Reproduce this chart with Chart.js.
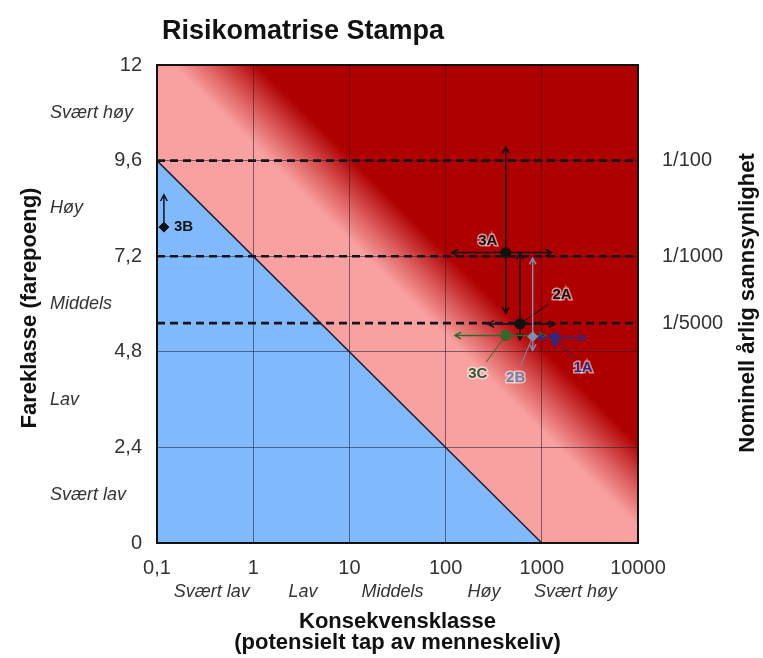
<!DOCTYPE html>
<html>
<head>
<meta charset="utf-8">
<script src="https://cdn.jsdelivr.net/npm/chart.js@4.4.1/dist/chart.umd.min.js"></script>
<style>
  html, body { margin: 0; padding: 0; background: #fff; }
  #c { display: block; }
</style>
</head>
<body>
<canvas id="c" width="763" height="658"></canvas>
<script>
// ---------- DATA ----------
const xTickValues = [0.1, 1, 10, 100, 1000, 10000];
const xTickLabels = ['0,1', '1', '10', '100', '1000', '10000'];
const yTickValues = [0, 2.4, 4.8, 7.2, 9.6, 12];
const yTickLabels = ['0', '2,4', '4,8', '7,2', '9,6', '12'];

const consequenceClasses = ['Svært lav', 'Lav', 'Middels', 'Høy', 'Svært høy'];
const consequenceClassX = [0.37, 3.3, 28, 250, 2240];
const hazardClasses = ['Svært lav', 'Lav', 'Middels', 'Høy', 'Svært høy'];
const hazardClassY = [1.2, 3.6, 6.0, 8.4, 10.8];

const probabilityLabels = ['1/5000', '1/1000', '1/100'];
const probabilityY = [5.52, 7.2, 9.6];

// acceptance boundary (blue region below)
const boundaryX = [0.1, 1000];
const boundaryY = [9.6, 0];
const isoSlope = 2.4;            // fareklasse per decade of consequence
const gradientFrom = 10.0;       // iso-risk level where pink begins to darken
const gradientTo = 12.1;         // iso-risk level that is fully dark red

// assessed scenarios
const pointLabels = ['3B', '3A', '2A', '3C', '2B', '1A'];
const pointX = [0.118, 422, 593, 422, 804, 1371];
const pointY = [7.93, 7.29, 5.5, 5.21, 5.18, 5.15];
const xErrLow = [null, 116, 275, 125, null, 912];
const xErrHigh = [null, 1268, 1370, 1080, null, 2820];
const yErrLow = [7.93, 5.77, 5.1, null, 4.84, 4.93];
const yErrHigh = [8.74, 9.94, 7.28, null, 7.15, 5.3];

// ---------- STYLE ----------
const FONT = "'Liberation Sans', Arial, Helvetica, sans-serif";
const BLUE = '#80BAFD';
const PINK = '#F9A1A1';
const DARKRED = '#AF0000';
const pointColors = ['#111111', '#111111', '#111111', '#2E6A2E', '#7A90B0', '#2A2A88'];
const labelColors = ['#111111', '#111111', '#111111', '#2F5A2F', '#6F82A6', '#2A2A86'];
const pointStyles = ['rectRot', 'circle', 'circle', 'circle', 'rectRot', 'triangle'];
const pointRadii = [5, 5, 5, 5, 5, 6];
const pointRotations = [0, 0, 0, 0, 0, 180];
const labelOffsets = [[10, 0], [-18, -12], [42, -29], [-28, 38], [-17, 41], [28, 30]];
const labelAlign = ['left', 'center', 'center', 'center', 'center', 'center'];
const leaderLines = [false, false, true, true, true, true];

function arrowHead(ctx, x, y, ang, size) {
  ctx.beginPath();
  ctx.moveTo(x - size * Math.cos(ang - 0.5), y - size * Math.sin(ang - 0.5));
  ctx.lineTo(x, y);
  ctx.lineTo(x - size * Math.cos(ang + 0.5), y - size * Math.sin(ang + 0.5));
  ctx.stroke();
}

const backgroundPlugin = {
  id: 'riskBackground',
  beforeDraw(chart) {
    const { ctx, chartArea: a, scales: { x, y } } = chart;
    ctx.save();
    ctx.fillStyle = '#fff';
    ctx.fillRect(0, 0, chart.width, chart.height);
    ctx.beginPath();
    ctx.rect(a.left, a.top, a.right - a.left, a.bottom - a.top);
    ctx.clip();
    // diagonal gradient along iso-risk lines
    const p0x = x.getPixelForValue(1), p0y = y.getPixelForValue(gradientFrom);
    const qy = y.getPixelForValue(gradientTo);
    const dx = x.getPixelForValue(10) - p0x;
    const dy = y.getPixelForValue(gradientFrom - isoSlope) - p0y;
    const nx = dy, ny = -dx;
    const t = ((qy - p0y) * ny) / (nx * nx + ny * ny);
    const g = ctx.createLinearGradient(p0x, p0y, p0x + t * nx, p0y + t * ny);
    g.addColorStop(0, PINK);
    g.addColorStop(0.45, '#DC5C5C');
    g.addColorStop(1, DARKRED);
    ctx.fillStyle = g;
    ctx.fillRect(a.left, a.top, a.right - a.left, a.bottom - a.top);
    // blue acceptable region
    ctx.beginPath();
    ctx.moveTo(x.getPixelForValue(boundaryX[0]), y.getPixelForValue(boundaryY[0]));
    ctx.lineTo(x.getPixelForValue(boundaryX[1]), y.getPixelForValue(boundaryY[1]));
    ctx.lineTo(x.getPixelForValue(boundaryX[0]), y.getPixelForValue(boundaryY[1]));
    ctx.closePath();
    ctx.fillStyle = BLUE;
    ctx.fill();
    ctx.restore();
  }
};

const errorBarPlugin = {
  id: 'errorBars',
  beforeDatasetsDraw(chart) {
    const { ctx, scales: { x, y } } = chart;
    ctx.save();
    ctx.lineWidth = 1.5;
    for (let i = 0; i < pointLabels.length; i++) {
      ctx.strokeStyle = pointColors[i];
      const px = x.getPixelForValue(pointX[i]);
      const py = y.getPixelForValue(pointY[i]);
      if (xErrLow[i] != null) {
        const x1 = x.getPixelForValue(xErrLow[i]);
        const x2 = x.getPixelForValue(xErrHigh[i]);
        ctx.beginPath(); ctx.moveTo(x1, py); ctx.lineTo(x2, py); ctx.stroke();
        arrowHead(ctx, x1, py, Math.PI, 7);
        arrowHead(ctx, x2, py, 0, 7);
      }
      if (yErrLow[i] != null) {
        const y1 = y.getPixelForValue(yErrLow[i]);
        const y2 = y.getPixelForValue(yErrHigh[i]);
        ctx.beginPath(); ctx.moveTo(px, y1); ctx.lineTo(px, y2); ctx.stroke();
        if (Math.abs(y1 - py) > 2) arrowHead(ctx, px, y1, Math.PI / 2, 7);
        if (Math.abs(y2 - py) > 2) arrowHead(ctx, px, y2, -Math.PI / 2, 7);
      }
      if (leaderLines[i]) {
        const lx = px + labelOffsets[i][0], ly = py + labelOffsets[i][1];
        const ex = lx - (labelOffsets[i][0]) * 0.3, ey = ly - labelOffsets[i][1] * 0.3;
        ctx.lineWidth = 1;
        ctx.beginPath(); ctx.moveTo(px, py); ctx.lineTo(ex, ey); ctx.stroke();
        ctx.lineWidth = 1.5;
      }
    }
    ctx.restore();
  },
  afterDatasetsDraw(chart) {
    const { ctx, scales: { x, y } } = chart;
    ctx.save();
    ctx.font = 'bold 15px ' + FONT;
    ctx.textBaseline = 'middle';
    for (let i = 0; i < pointLabels.length; i++) {
      const px = x.getPixelForValue(pointX[i]);
      const py = y.getPixelForValue(pointY[i]);
      const lx = px + labelOffsets[i][0], ly = py + labelOffsets[i][1];
      ctx.textAlign = labelAlign[i];
      if (i > 0) {
        ctx.strokeStyle = 'rgba(255,255,255,0.55)';
        ctx.lineWidth = 3;
        ctx.strokeText(pointLabels[i], lx, ly);
      }
      ctx.fillStyle = labelColors[i];
      ctx.fillText(pointLabels[i], lx, ly);
    }
    ctx.restore();
  }
};

const textPlugin = {
  id: 'texts',
  afterDraw(chart) {
    const { ctx, chartArea: a, scales: { x, y } } = chart;
    ctx.save();
    // plot border
    ctx.strokeStyle = '#111';
    ctx.lineWidth = 2;
    ctx.strokeRect(a.left, a.top, a.right - a.left, a.bottom - a.top);
    ctx.fillStyle = '#111';
    // title
    ctx.font = 'bold 27px ' + FONT;
    ctx.textAlign = 'left';
    ctx.textBaseline = 'alphabetic';
    ctx.fillText('Risikomatrise Stampa', 162, 39);
    // x title
    ctx.font = 'bold 22px ' + FONT;
    ctx.textAlign = 'center';
    ctx.textBaseline = 'middle';
    const cx = (a.left + a.right) / 2;
    ctx.fillText('Konsekvensklasse', cx, 622);
    ctx.fillText('(potensielt tap av menneskeliv)', cx, 643);
    // left y title
    ctx.save();
    ctx.translate(30, 308);
    ctx.rotate(-Math.PI / 2);
    ctx.fillText('Fareklasse (farepoeng)', 0, 0);
    ctx.restore();
    // right y title
    ctx.save();
    ctx.translate(748, 303);
    ctx.rotate(-Math.PI / 2);
    ctx.fillText('Nominell årlig sannsynlighet', 0, 0);
    ctx.restore();
    // class labels
    ctx.fillStyle = '#333';
    ctx.font = 'italic 18px ' + FONT;
    ctx.textAlign = 'center';
    for (let i = 0; i < consequenceClasses.length; i++) {
      ctx.fillText(consequenceClasses[i], x.getPixelForValue(consequenceClassX[i]), 592);
    }
    ctx.textAlign = 'left';
    for (let i = 0; i < hazardClasses.length; i++) {
      ctx.fillText(hazardClasses[i], 50, y.getPixelForValue(hazardClassY[i]));
    }
    ctx.restore();
  }
};

const hLine = (v) => [{ x: 0.1, y: v }, { x: 10000, y: v }];

new Chart(document.getElementById('c'), {
  type: 'scatter',
  data: {
    datasets: [
      {
        data: pointX.map((v, i) => ({ x: v, y: pointY[i] })),
        pointStyle: pointStyles,
        pointRadius: pointRadii,
        pointRotation: pointRotations,
        backgroundColor: pointColors,
        borderColor: pointColors,
        borderWidth: 1,
        showLine: false
      },
      ...probabilityY.map(v => ({
        type: 'line',
        data: hLine(v),
        borderColor: '#151520',
        borderWidth: 2.6,
        borderDash: [8, 5],
        pointRadius: 0,
        fill: false
      })),
      {
        type: 'line',
        data: boundaryX.map((v, i) => ({ x: v, y: boundaryY[i] })),
        borderColor: '#1E2030',
        borderWidth: 1.5,
        pointRadius: 0,
        fill: false
      }
    ]
  },
  options: {
    responsive: false,
    animation: false,
    layout: { padding: { top: 65, left: 0, right: 0, bottom: 0 } },
    plugins: { legend: { display: false }, tooltip: { enabled: false }, title: { display: false } },
    scales: {
      x: {
        type: 'logarithmic',
        position: 'bottom',
        min: 0.1,
        max: 10000,
        afterBuildTicks: (s) => { s.ticks = xTickValues.map(v => ({ value: v })); },
        afterFit: (s) => { s.height = 115; },
        grid: { color: 'rgba(30,30,50,0.55)', lineWidth: 1, drawTicks: false },
        border: { display: false },
        ticks: {
          autoSkip: false, maxRotation: 0, padding: 13, color: '#333',
          font: { family: FONT, size: 20 },
          callback: (v, i) => xTickLabels[i]
        }
      },
      y: {
        type: 'linear',
        position: 'left',
        min: 0,
        max: 12,
        afterBuildTicks: (s) => { s.ticks = yTickValues.map(v => ({ value: v })); },
        afterFit: (s) => { s.width = 157; },
        grid: { color: 'rgba(30,30,50,0.55)', lineWidth: 1, drawTicks: false },
        border: { display: false },
        ticks: {
          autoSkip: false, padding: 15, color: '#333',
          font: { family: FONT, size: 20 },
          callback: (v, i) => yTickLabels[i]
        }
      },
      y2: {
        type: 'linear',
        position: 'right',
        min: 0,
        max: 12,
        afterBuildTicks: (s) => { s.ticks = probabilityY.map(v => ({ value: v })); },
        afterFit: (s) => { s.width = 125; },
        grid: { display: false, drawTicks: false },
        border: { display: false },
        ticks: {
          autoSkip: false, padding: 24, color: '#333',
          font: { family: FONT, size: 20 },
          callback: (v, i) => probabilityLabels[i]
        }
      }
    }
  },
  plugins: [backgroundPlugin, errorBarPlugin, textPlugin]
});
</script>
</body>
</html>
